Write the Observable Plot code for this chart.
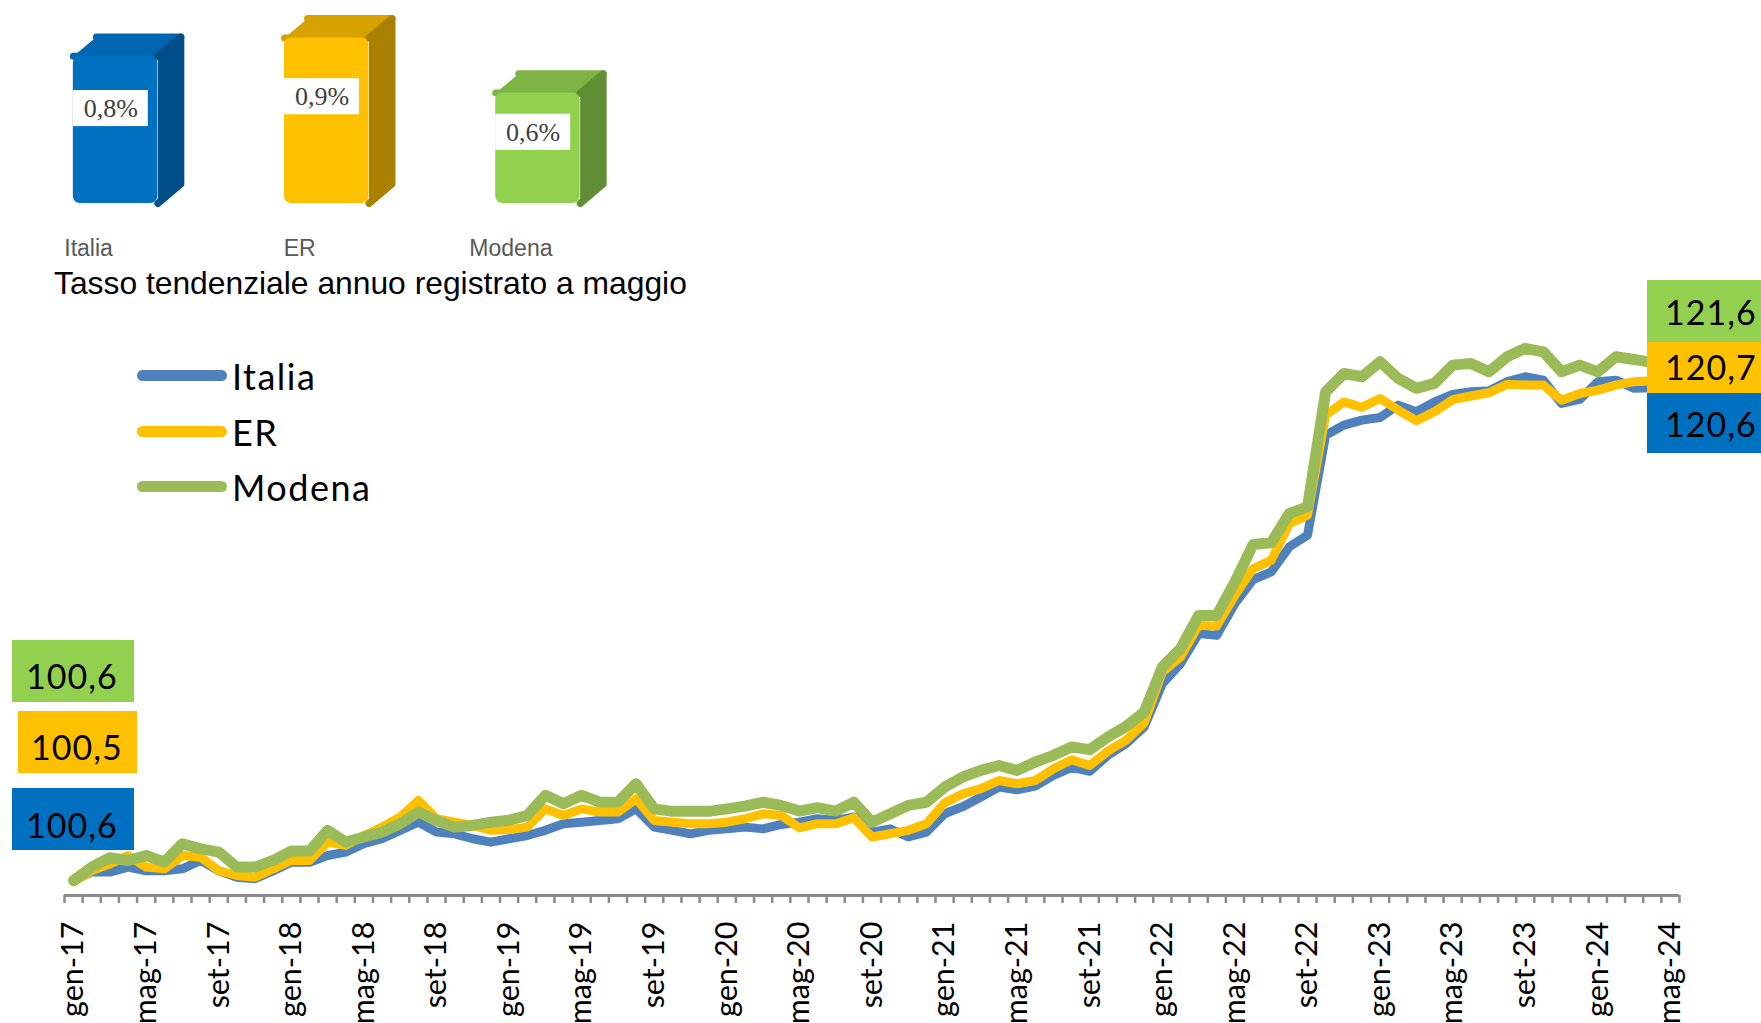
<!DOCTYPE html>
<html><head><meta charset="utf-8">
<script src="https://cdn.jsdelivr.net/npm/d3@7"></script>
<script src="https://cdn.jsdelivr.net/npm/@observablehq/plot@0.6"></script>
<style>
html,body{margin:0;padding:0;background:#fff;}
#root{position:relative;width:1761px;height:1023px;overflow:hidden;background:#fff;}
#root svg{position:absolute;left:0;top:0;}
.t{position:absolute;white-space:nowrap;line-height:1;}
.box{position:absolute;}
</style></head><body>
<div id="root"></div>
<script>
// ---------- data ----------
const tickLabels = ["gen-17","mag-17","set-17","gen-18","mag-18","set-18","gen-19","mag-19","set-19",
  "gen-20","mag-20","set-20","gen-21","mag-21","set-21","gen-22","mag-22","set-22",
  "gen-23","mag-23","set-23","gen-24","mag-24"];

const italia = [100.6,100.95,100.95,101.15,101.0,101.0,101.08,101.42,101.0,100.74,100.68,101.0,
101.35,101.35,101.62,101.76,102.1,102.3,102.64,102.97,102.57,102.5,102.3,102.16,
102.3,102.43,102.64,102.91,102.97,103.04,103.11,103.51,102.77,102.64,102.5,102.64,
102.7,102.77,102.7,102.88,102.97,103.11,103.04,103.18,102.57,102.7,102.37,102.57,
103.31,103.6,103.99,104.39,104.28,104.43,104.87,105.19,105.03,105.68,106.15,106.83,
108.58,109.39,110.61,110.54,111.83,112.8,113.11,114.13,114.6,118.65,119.06,119.26,
119.37,119.87,119.6,120.0,120.3,120.41,120.45,120.82,121.02,120.88,119.94,120.1,
120.82,120.88,120.55,120.57,120.6];

const er = [100.55,101.01,101.28,101.62,101.15,101.08,101.62,101.55,101.01,100.81,100.74,101.08,
101.42,101.42,102.16,102.03,102.43,102.77,103.18,103.85,103.11,102.97,102.84,102.64,
102.67,102.77,103.51,103.24,103.51,103.38,103.38,103.92,103.04,102.97,102.91,102.91,
102.97,103.11,103.31,103.24,102.74,102.91,102.91,103.15,102.37,102.5,102.64,102.91,
103.75,104.12,104.33,104.66,104.53,104.66,105.14,105.5,105.27,105.85,106.29,106.99,
109.06,109.66,110.95,110.92,112.17,113.25,113.58,115.07,115.41,119.46,120.0,119.78,
120.14,119.67,119.24,119.6,120.09,120.24,120.37,120.71,120.68,120.68,120.07,120.34,
120.48,120.68,120.82,120.86,120.7];

const modena = [100.61,101.15,101.53,101.42,101.62,101.35,102.1,101.89,101.76,101.15,101.15,101.42,
101.8,101.8,102.64,102.16,102.37,102.57,102.91,103.38,103.04,102.77,102.84,102.97,
103.05,103.24,104.06,103.72,104.06,103.78,103.78,104.53,103.51,103.41,103.41,103.41,
103.51,103.62,103.78,103.65,103.42,103.56,103.42,103.78,102.97,103.31,103.65,103.78,
104.39,104.8,105.07,105.27,105.07,105.41,105.68,106.02,105.91,106.42,106.85,107.43,
109.26,110.0,111.35,111.35,112.71,114.22,114.29,115.48,115.75,120.41,121.15,121.02,
121.63,120.95,120.55,120.75,121.49,121.56,121.22,121.83,122.17,122.03,121.22,121.49,
121.22,121.83,121.72,121.59,121.6];

const seriesNames = ["Italia","ER","Modena"];
const startValues = [100.6, 100.5, 100.6];   // Italia, ER, Modena (gen-17)
const endValues   = [120.6, 120.7, 121.6];   // Italia, ER, Modena (mag-24)

const barCategories = ["Italia","ER","Modena"];
const barValues = [0.8, 0.9, 0.6];            // tasso tendenziale annuo (%)
const caption = "Tasso tendenziale annuo registrato a maggio";

// ---------- styles ----------
const lineColors = {Italia:"#4F81BD", ER:"#FFC000", Modena:"#9BBB59"};
const lineWidths = {Italia:9, ER:9, Modena:11};
const boxColors  = {Italia:"#0070C0", ER:"#FFC000", Modena:"#92D050"};
const barFace = {
  Italia:{front:"#0070C0", top:"#0066B2", side:"#004E88"},
  ER:{front:"#FFC000", top:"#D6A200", side:"#A98000"},
  Modena:{front:"#92D050", top:"#7DB444", side:"#608E35"}
};

const root = document.getElementById("root");
const fmt = v => d3.format(".1f")(v).replace(".", ",");

// ---------- line chart ----------
const n = italia.length;
const seriesData = {Italia: italia, ER: er, Modena: modena};
const rows = seriesNames.flatMap(s => seriesData[s].map((v, i) => ({i, serie: s, v})));
const boundaries = d3.range(n + 1).map(i => i - 0.5);
const labelIdx = tickLabels.map((_, k) => k * 4);

const lineChart = Plot.plot({
  width: 1761, height: 1023,
  marginLeft: 64, marginRight: 82, marginTop: 278, marginBottom: 128,
  style: {background: "transparent", fontFamily: "Lato, sans-serif", overflow: "visible"},
  x: {domain: [-0.5, n - 0.5], label: null},
  y: {domain: [100, 125], axis: null},
  marks: [
    Plot.ruleY([100], {stroke: "#8a8a8a", strokeWidth: 3}),
    Plot.axisX(boundaries, {tickSize: 8, tickFormat: () => "", stroke: "#8a8a8a", strokeWidth: 2.5}),
    Plot.axisX(labelIdx, {tickSize: 0, tickPadding: 26, tickRotate: -90,
      tickFormat: i => tickLabels[i / 4], fontSize: 30.5, fill: "#000", fontFamily: "Lato, sans-serif"}),
    ...seriesNames.map(s => Plot.line(rows.filter(d => d.serie === s), {
      x: "i", y: "v", stroke: lineColors[s], strokeWidth: lineWidths[s],
      strokeLinejoin: "round", strokeLinecap: "round"
    }))
  ]
});
root.appendChild(lineChart);

// ---------- 3D-style bar chart ----------
const W = 0.2, D = 0.109, DD = 0.105;
const bars = barCategories.map((name, c) => ({name, c, v: barValues[c], ...barFace[name]}));
const poly = (b, pts, key) => pts.map(([x, y]) => ({id: b.name, x, y, fill: b[key]}));
const topFaces = bars.flatMap(b => poly(b, [[b.c - W, b.v], [b.c + W, b.v], [b.c + W + D, b.v + DD], [b.c - W + D, b.v + DD]], "top"));
const sideFaces = bars.flatMap(b => poly(b, [[b.c + W, 0], [b.c + W + D, DD], [b.c + W + D, b.v + DD], [b.c + W, b.v]], "side"));

const barChart = Plot.plot({
  width: 700, height: 270,
  marginLeft: 9.5, marginRight: 57, marginTop: 19, marginBottom: 67,
  style: {background: "transparent", overflow: "visible"},
  x: {domain: [-0.5, 2.5], axis: null},
  y: {domain: [0, 1], axis: null},
  color: {type: "identity"},
  marks: [
    Plot.line(topFaces, {x: "x", y: "y", z: "id", fill: "fill", stroke: "fill", strokeWidth: 7, strokeLinejoin: "round"}),
    Plot.line(sideFaces, {x: "x", y: "y", z: "id", fill: "fill", stroke: "fill", strokeWidth: 7, strokeLinejoin: "round"}),
    Plot.rectY(bars, {x1: d => d.c - W, x2: d => d.c + W, y1: 0, y2: "v", fill: "front", rx: 7}),
    Plot.rect(bars, {x1: d => d.c - W, x2: d => d.c - W + 0.355,
      y1: d => d.v * 0.645 - 0.098, y2: d => d.v * 0.645 + 0.098, fill: "white"}),
    Plot.text(bars, {x: d => d.c - W + 0.1775, y: d => d.v * 0.645,
      text: d => fmt(d.v) + "%", fontFamily: "Liberation Serif, serif", fontSize: 26, fill: "#404040"}),
    Plot.text(bars, {x: "c", y: 0, dy: 45, dx: -27, text: "name",
      fontFamily: "Liberation Sans, Arial, sans-serif", fontSize: 23, fill: "#595959"})
  ]
});
root.appendChild(barChart);

// ---------- html text helpers ----------
const ASC = {lato: 0.887, sans: 0.8465, serif: 0.8375};
function addText(txt, {left, baseline, size, fam, color = "#000", spacing = 0}) {
  const d = document.createElement("div");
  d.className = "t";
  d.textContent = txt;
  const family = fam === "lato" ? "Lato, sans-serif" : fam === "sans" ? "'Liberation Sans', Arial, sans-serif" : "'Liberation Serif', serif";
  Object.assign(d.style, {left: left + "px", top: (baseline - ASC[fam] * size) + "px",
    fontSize: size + "px", fontFamily: family, color, letterSpacing: spacing + "px"});
  root.appendChild(d);
  return d;
}
function addBox(left, top, w, h, color) {
  const d = document.createElement("div");
  d.className = "box";
  Object.assign(d.style, {left: left + "px", top: top + "px", width: w + "px", height: h + "px", background: color});
  root.appendChild(d);
}

// caption
addText(caption, {left: 54, baseline: 295, size: 31.8, fam: "sans"});

// legend
const legendY = {Italia: 375, ER: 431, Modena: 486};
seriesNames.forEach(s => {
  const sw = document.createElement("div");
  Object.assign(sw.style, {position: "absolute", left: "137px", top: (legendY[s] - 5.5) + "px",
    width: "90px", height: "11px", borderRadius: "6px", background: lineColors[s]});
  root.appendChild(sw);
  addText(s, {left: 232, baseline: legendY[s] + 15, size: 36, fam: "lato", spacing: 1.5});
});

// start labels (gen-17)
const startBoxes = {Modena: [12, 640, 122, 62, 26, 689], ER: [18, 711, 119, 62, 31, 760], Italia: [12, 788, 122, 62, 26, 838]};
seriesNames.forEach((s, k) => {
  const [l, t, w, h, tl, bl] = startBoxes[s];
  addBox(l, t, w, h, boxColors[s]);
  addText(fmt(startValues[k]), {left: tl, baseline: bl, size: 34, fam: "lato", spacing: 1});
});
// end labels (mag-24)
const endBoxes = {Modena: [1647, 280, 114, 62, 1665, 325], ER: [1647, 342, 114, 51, 1665, 380], Italia: [1647, 393, 114, 60, 1665, 437]};
seriesNames.forEach((s, k) => {
  const [l, t, w, h, tl, bl] = endBoxes[s];
  addBox(l, t, w, h, boxColors[s]);
  addText(fmt(endValues[k]), {left: tl, baseline: bl, size: 34, fam: "lato", spacing: 1});
});
</script>
</body></html>
